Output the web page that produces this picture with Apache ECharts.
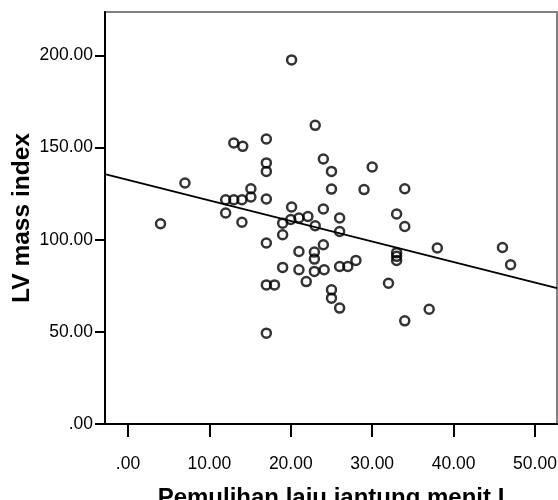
<!DOCTYPE html>
<html>
<head>
<meta charset="utf-8">
<script src="https://cdn.jsdelivr.net/npm/echarts@6/dist/echarts.min.js"></script>
<style>html,body{margin:0;padding:0;background:#fff}#c{width:558px;height:500px}</style>
</head>
<body>
<div id="c"></div>
<script>
// Pemulihan laju jantung menit I (x) vs LV mass index (y)
const recoveryHR = [4.0, 7.0, 12.0, 13.0, 14.0, 12.0, 13.0, 14.1, 14.0, 15.1, 15.1, 17.0, 17.0, 17.0, 17.0, 17.0, 17.0, 18.0, 17.0, 19.0, 19.0, 19.0, 20.1, 20.0, 20.1, 21.0, 21.0, 21.0, 22.1, 21.9, 23.0, 23.0, 22.9, 22.9, 22.9, 24.0, 24.0, 24.0, 24.1, 25.0, 25.0, 25.0, 25.0, 26.0, 26.0, 26.0, 27.0, 26.0, 28.0, 29.0, 30.0, 32.0, 33.0, 33.0, 33.0, 33.0, 34.0, 34.0, 34.0, 37.0, 38.0, 46.0, 47.0];
const lvMassIndex = [108.7, 130.8, 121.7, 121.7, 121.7, 114.5, 152.5, 150.7, 109.5, 127.7, 123.2, 154.7, 141.7, 137.1, 122.1, 98.2, 75.5, 75.5, 49.3, 109.0, 102.7, 85.0, 117.8, 111.0, 197.6, 111.8, 93.6, 83.7, 112.6, 77.3, 162.1, 107.6, 93.3, 89.5, 82.8, 143.8, 116.7, 97.3, 83.7, 137.1, 127.5, 72.8, 68.3, 111.8, 104.5, 85.5, 85.5, 62.9, 88.8, 127.2, 139.5, 76.4, 114.0, 93.0, 91.0, 88.8, 127.7, 107.2, 56.0, 62.3, 95.5, 95.8, 86.4];
const xTicks = [0, 10, 20, 30, 40, 50];
const yTicks = [0, 50, 100, 150, 200];
const xRange = [-2.82, 52.7];
const yRange = [0, 223.6];

const pts = recoveryHR.map((x, i) => [x, lvMassIndex[i]]);
// least squares fit line
const n = pts.length;
const mx = recoveryHR.reduce((a, b) => a + b, 0) / n;
const my = lvMassIndex.reduce((a, b) => a + b, 0) / n;
let sxy = 0, sxx = 0;
for (let i = 0; i < n; i++) { sxy += (recoveryHR[i] - mx) * (lvMassIndex[i] - my); sxx += (recoveryHR[i] - mx) ** 2; }
const slope = sxy / sxx, intercept = my - slope * mx;
const fit = xRange.map(x => [x, intercept + slope * x]);

const fmt = v => v === 0 ? '.00' : v.toFixed(2);
const chart = echarts.init(document.getElementById('c'), null, {renderer: 'canvas'});
chart.setOption({
  animation: false,
  backgroundColor: '#fff',
  grid: {left: 105, right: 1, top: 12, bottom: 76, containLabel: false, outerBoundsMode: 'none',
         show: true, borderColor: '#808080', borderWidth: 2},
  xAxis: {
    type: 'value', min: xRange[0], max: xRange[1],
    name: 'Pemulihan laju jantung menit I', nameLocation: 'middle', nameGap: 62, nameMoveOverlap: false,
    nameTextStyle: {fontFamily: 'Liberation Sans', fontWeight: 'bold', fontSize: 24, color: '#000'},
    axisLine: {show: true, onZero: false, lineStyle: {color: '#000', width: 2}},
    axisTick: {show: true, length: 13, customValues: xTicks, lineStyle: {color: '#000', width: 2}},
    axisLabel: {customValues: xTicks, formatter: fmt, margin: 31, fontFamily: 'Liberation Sans', fontSize: 17.5, color: '#000'},
    splitLine: {show: false}
  },
  yAxis: {
    type: 'value', min: yRange[0], max: yRange[1],
    name: 'LV mass index', nameLocation: 'middle', nameGap: 70, nameRotate: 90, nameMoveOverlap: false,
    nameTextStyle: {fontFamily: 'Liberation Sans', fontWeight: 'bold', fontSize: 24.5, color: '#000'},
    axisLine: {show: true, onZero: false, lineStyle: {color: '#000', width: 2}},
    axisTick: {show: true, length: 10, customValues: yTicks, lineStyle: {color: '#000', width: 2}},
    axisLabel: {customValues: yTicks, formatter: fmt, margin: 12, fontFamily: 'Liberation Sans', fontSize: 17.5, color: '#000'},
    splitLine: {show: false}
  },
  series: [
    {type: 'line', data: fit, symbol: 'none', lineStyle: {color: '#000', width: 1.8}, silent: true, z: 2},
    {type: 'scatter', data: pts, symbol: 'circle', symbolSize: 9,
     itemStyle: {color: 'rgba(0,0,0,0)', borderColor: '#000', borderWidth: 2.5}, z: 3}
  ]
});
</script>
</body>
</html>
